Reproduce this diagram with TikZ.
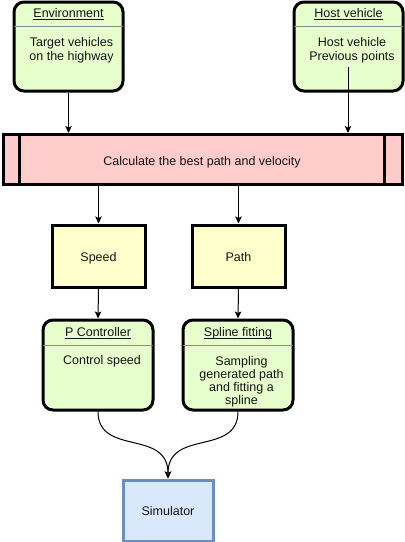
\documentclass[tikz,border=0pt]{standalone}
\usepackage{fontspec}
\setmainfont{Liberation Sans}
\usetikzlibrary{arrows.meta}
\newcommand\myul[1]{\underline{\smash{#1}}}
\definecolor{greenfill}{HTML}{E6FFCC}
\definecolor{pinkfill}{HTML}{FFCCCC}
\definecolor{yellowfill}{HTML}{FFFFCC}
\definecolor{bluefill}{HTML}{DAE8FC}
\definecolor{bluedraw}{HTML}{6C8EBF}
\definecolor{divgray}{HTML}{8A8A8A}
\definecolor{txt}{HTML}{141414}
\begin{document}
\begin{tikzpicture}[x=1pt,y=-1pt,
  font=\fontsize{12.5}{13.2}\selectfont,
  every node/.style={text=txt},
  lane/.style={draw=black, line width=3pt, fill=greenfill, rounded corners=10pt, inner sep=0pt},
  calcbox/.style={draw=black, line width=3pt, fill=pinkfill, inner sep=0pt},
  ybox/.style={draw=black, line width=3pt, fill=yellowfill, inner sep=0pt},
  simbox/.style={draw=bluedraw, line width=3pt, fill=bluefill, inner sep=0pt},
  divider/.style={draw=divgray, line width=1pt},
  body/.style={align=center, anchor=north, inner sep=0pt},
  lbl/.style={anchor=base, inner sep=0pt},
  arr/.style={draw=black, line width=1pt, -{Stealth[length=7pt,width=6.5pt,inset=1.5pt]}}
]
\useasboundingbox (0,0) rectangle (405,542);

% Environment
\node[lane, minimum width=109pt, minimum height=89pt] (env) at (68.5,46.5) {};
\draw[divider] ([xshift=1.5pt,yshift=-25.5pt]env.north west) -- ([xshift=-1.5pt,yshift=-25.5pt]env.north east);
\node[lbl] (envtitle) at (68.5,17.5) {\myul{Environment}};
\node[body] (envtext) at (71.5,37.6) {Target vehicles\\on the highway};

% Host vehicle
\node[lane, minimum width=109pt, minimum height=89pt] (host) at (348.5,46.5) {};
\draw[divider] ([xshift=1.5pt,yshift=-25.5pt]host.north west) -- ([xshift=-1.5pt,yshift=-25.5pt]host.north east);
\node[lbl] (hosttitle) at (348.5,17.5) {\myul{Host vehicle}};
\node[body] (hosttext) at (352,37.6) {Host vehicle\\Previous points};
\coordinate (hoststart) at (348,67);

% Calculate bar
\node[calcbox, minimum width=399pt, minimum height=50pt] (calc) at (202.5,159.5) {};
\draw[line width=3pt] ([xshift=18pt]calc.north west) -- ([xshift=18pt]calc.south west);
\draw[line width=3pt] ([xshift=-19pt]calc.north east) -- ([xshift=-19pt]calc.south east);
\node[lbl] (calctext) at (202,165) {Calculate the best path and velocity};

% Speed / Path
\node[ybox, minimum width=93pt, minimum height=62pt] (speed) at (98.5,256) {};
\node[lbl] (speedtext) at (98.5,261) {Speed};
\node[ybox, minimum width=93pt, minimum height=62pt] (path) at (238.5,256) {};
\node[lbl] (pathtext) at (238.5,261) {Path};

% P Controller
\node[lane, minimum width=110pt, minimum height=90pt] (pc) at (98,365) {};
\draw[divider] ([xshift=1.5pt,yshift=-27pt]pc.north west) -- ([xshift=-1.5pt,yshift=-27pt]pc.north east);
\node[lbl] (pctitle) at (98,336.7) {\myul{P Controller}};
\node[body] (pctext) at (102,355.2) {Control speed};

% Spline fitting
\node[lane, minimum width=110pt, minimum height=90pt] (sf) at (238,365) {};
\draw[divider] ([xshift=1.5pt,yshift=-27pt]sf.north west) -- ([xshift=-1.5pt,yshift=-27pt]sf.north east);
\node[lbl] (sftitle) at (238,336.7) {\myul{Spline fitting}};
\node[body] (sftext) at (241.5,355.9) {Sampling\\generated path\\and fitting a\\spline};

% Simulator
\node[simbox, minimum width=90pt, minimum height=61pt] (sim) at (168,510.5) {};
\node[lbl] (simtext) at (168,515) {Simulator};

% Connectors
\draw[arr] (env.south) -- (env.south |- calc.north);
\draw[arr] (hoststart) -- (hoststart |- calc.north);
\draw[arr] (calc.south -| speed.north) -- (speed.north);
\draw[arr] (calc.south -| path.north) -- (path.north);
\draw[arr] (speed.south) -- (pc.north);
\draw[arr] (path.south) -- (sf.north);
\draw[arr] (pc.south) .. controls +(0,45) and +(0,-50) .. (sim.north);
\draw[arr] (sf.south) .. controls +(0,45) and +(0,-50) .. (sim.north);
\end{tikzpicture}
\end{document}
